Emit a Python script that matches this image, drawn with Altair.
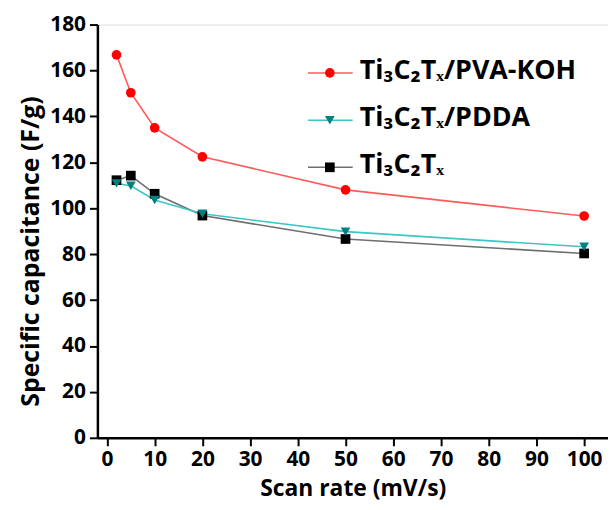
import altair as alt
import pandas as pd

scan_rate = [2, 5, 10, 20, 50, 100]
pva_koh = [166.8, 150.3, 135.0, 122.4, 108.0, 96.6]
pdda = [110.8, 109.8, 103.6, 97.6, 89.8, 83.2]
ti3c2tx = [112.2, 114.2, 106.3, 96.8, 86.6, 80.3]

series_names = ["Ti₃C₂Tₓ", "Ti₃C₂Tₓ/PDDA", "Ti₃C₂Tₓ/PVA-KOH"]
series_values = [ti3c2tx, pdda, pva_koh]
line_colors = ["#6e6e6e", "#3cc6c6", "#ff5a5a"]
marker_colors = ["#000000", "#008080", "#ff0000"]
marker_shapes = ["square", "triangle-down", "circle"]

rows = []
for name, vals in zip(series_names, series_values):
    for x, y in zip(scan_rate, vals):
        rows.append({"series": name, "rate": x, "cap": y})
df = pd.DataFrame(rows)

FONT = "Open Sans"

xs = alt.Scale(domain=[-2, 105], nice=False, zero=False)
ys = alt.Scale(domain=[0, 180], nice=False)

x_enc = alt.X("rate:Q", scale=xs, title="Scan rate (mV/s)",
              axis=alt.Axis(values=list(range(0, 101, 10)), grid=False,
                            tickSize=8, tickWidth=2, tickColor="black",
                            domainWidth=2.5, domainColor="black",
                            labelFont=FONT, labelFontSize=21, labelFontWeight="bold",
                            labelColor="black", labelPadding=3,
                            titleFont=FONT, titleFontSize=23, titleFontWeight="bold",
                            titleColor="black", titlePadding=8, labelFlush=False))
y_enc = alt.Y("cap:Q", scale=ys, title="Specific capacitance (F/g)",
              axis=alt.Axis(values=list(range(0, 181, 10)), grid=False,
                            labelExpr="datum.value % 20 == 0 ? datum.label : ''",
                            tickSize={"condition": {"test": "datum.value % 20 == 0", "value": 8}, "value": 5},
                            tickWidth=2, tickColor="black",
                            domainWidth=2.5, domainColor="black",
                            labelFont=FONT, labelFontSize=21, labelFontWeight="bold",
                            labelColor="black", labelPadding=4, labelOverlap=False,
                            titleFont=FONT, titleFontSize=25, titleFontWeight="bold",
                            titleColor="black", titlePadding=6, titleY=228, labelFlush=False))

color_scale = alt.Scale(domain=series_names, range=line_colors)
fill_scale = alt.Scale(domain=series_names, range=marker_colors)
shape_scale = alt.Scale(domain=series_names, range=marker_shapes)

base = alt.Chart(df)
lines = base.mark_line(strokeWidth=1.6).encode(
    x=x_enc, y=y_enc,
    color=alt.Color("series:N", scale=color_scale, legend=None),
    detail="series:N",
)
points = base.mark_point(filled=True, size=95, opacity=1).encode(
    x=alt.X("rate:Q", scale=xs), y=alt.Y("cap:Q", scale=ys),
    fill=alt.Fill("series:N", scale=fill_scale, legend=None),
    shape=alt.Shape("series:N", scale=shape_scale, legend=None),
)

# custom legend (order as in reference)
legend_labels = ["Ti₃C₂Tₓ/PVA-KOH", "Ti₃C₂Tₓ/PDDA", "Ti₃C₂Tₓ"]
legend_idx = [2, 1, 0]
one = pd.DataFrame({"k": [0]})
legend_layers = []
row_y = [48.7, 96.3, 143.7]
for r, (lab, i) in enumerate(zip(legend_labels, legend_idx)):
    yv = row_y[r]
    legend_layers.append(alt.Chart(one).mark_rule(strokeWidth=1.6, color=line_colors[i]).encode(
        x=alt.value(212), x2=alt.value(257), y=alt.value(yv)))
    legend_layers.append(alt.Chart(one).mark_point(filled=True, size=95, opacity=1,
                                                   shape=marker_shapes[i], color=marker_colors[i]).encode(
        x=alt.value(234), y=alt.value(yv)))
    legend_layers.append(alt.Chart(one).mark_text(align="left", baseline="alphabetic", font=FONT,
                                                  fontSize=27, fontWeight="bold", color="black").encode(
        x=alt.value(264), y=alt.value(yv + 6), text=alt.value(lab)))

chart = alt.layer(lines, points, *legend_layers).properties(
    width=514, height=416,
    autosize=alt.AutoSizeParams(type="none"),
    padding={"left": 90, "top": 15, "right": 0, "bottom": 70},
).configure_view(stroke="black", strokeWidth=2.5).configure(background="white")

chart.save("out.html", embed_options={"renderer": "svg", "actions": False})
